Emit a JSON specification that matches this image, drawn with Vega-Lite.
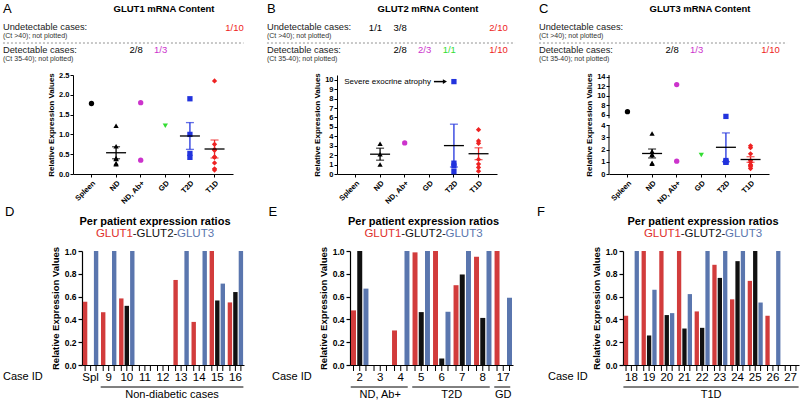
{
 "$schema": "https://vega.github.io/schema/vega-lite/v6.json",
 "padding": {"left": 2, "top": 2, "right": 0, "bottom": 0},
 "background": "white",
 "config": {
  "font": "Liberation Sans",
  "view": {"stroke": null},
  "axis": {"grid": false, "domainColor": "#000", "tickColor": "#000", "labelColor": "#000", "titleColor": "#000", "labelFont": "Liberation Sans", "titleFont": "Liberation Sans"},
  "axisY": {"labelFontWeight": "bold", "titleFontWeight": "bold"},
  "text": {"font": "Liberation Sans", "color": "#000"}
 },
 "datasets": {
  "g1": [
   {"g": "Spleen", "v": 1.78},
   {"g": "ND", "v": 1.22}, {"g": "ND", "v": 0.70}, {"g": "ND", "v": 0.40}, {"g": "ND", "v": 0.38}, {"g": "ND", "v": 0.27}, {"g": "ND", "v": 0.25},
   {"g": "ND, Ab+", "v": 1.80}, {"g": "ND, Ab+", "v": 0.35},
   {"g": "GD", "v": 1.22},
   {"g": "T2D", "v": 1.90}, {"g": "T2D", "v": 1.00}, {"g": "T2D", "v": 0.52}, {"g": "T2D", "v": 0.42},
   {"g": "T1D", "v": 2.35}, {"g": "T1D", "v": 0.75}, {"g": "T1D", "v": 0.62}, {"g": "T1D", "v": 0.60}, {"g": "T1D", "v": 0.43}, {"g": "T1D", "v": 0.42}, {"g": "T1D", "v": 0.28}, {"g": "T1D", "v": 0.13}, {"g": "T1D", "v": 0.10}
  ],
  "g2": [
   {"g": "ND", "v": 3.2}, {"g": "ND", "v": 2.1}, {"g": "ND", "v": 1.0},
   {"g": "ND, Ab+", "v": 3.3},
   {"g": "T2D", "v": 9.8}, {"g": "T2D", "v": 1.15}, {"g": "T2D", "v": 0.85}, {"g": "T2D", "v": 0.25},
   {"g": "T1D", "v": 4.7}, {"g": "T1D", "v": 3.5}, {"g": "T1D", "v": 3.25}, {"g": "T1D", "v": 1.55}, {"g": "T1D", "v": 1.05}, {"g": "T1D", "v": 0.7}, {"g": "T1D", "v": 0.3}
  ],
  "g3": [
   {"g": "Spleen", "v": 6.7},
   {"g": "ND", "v": 3.3}, {"g": "ND", "v": 1.85}, {"g": "ND", "v": 1.6}, {"g": "ND", "v": 1.55}, {"g": "ND", "v": 0.9}, {"g": "ND", "v": 0.85},
   {"g": "ND, Ab+", "v": 12.4}, {"g": "ND, Ab+", "v": 1.05},
   {"g": "GD", "v": 1.55},
   {"g": "T2D", "v": 5.7}, {"g": "T2D", "v": 1.1}, {"g": "T2D", "v": 0.97}, {"g": "T2D", "v": 0.95},
   {"g": "T1D", "v": 2.3}, {"g": "T1D", "v": 2.15}, {"g": "T1D", "v": 1.65}, {"g": "T1D", "v": 1.1}, {"g": "T1D", "v": 0.95}, {"g": "T1D", "v": 0.75}, {"g": "T1D", "v": 0.7}, {"g": "T1D", "v": 0.6}, {"g": "T1D", "v": 0.45}
  ]
 },
 "spacing": 0,
 "resolve": {"scale": {"x": "independent", "y": "independent", "color": "independent", "shape": "independent", "xOffset": "independent"}},
 "vconcat": [
  {
   "spacing": 22,
   "resolve": {"scale": {"x": "independent", "y": "independent", "color": "independent", "shape": "independent"}},
   "hconcat": [
    {
     "width": 160, "height": 99,
     "layer": [
      {"data": {"name": "g1"}, "mark": {"type": "point", "filled": true, "size": 28, "opacity": 1},
       "encoding": {
        "x": {"field": "g", "type": "nominal", "scale": {"type": "band", "domain": ["Spleen", "ND", "ND, Ab+", "GD", "T2D", "T1D"], "range": [-9, 151], "paddingInner": 0, "paddingOuter": 0.25}, "axis": {"title": null, "labelAngle": -45, "labelFontSize": 7.5, "labelFontWeight": "bold", "tickSize": 3, "labelPadding": 2}},
        "y": {"field": "v", "type": "quantitative", "scale": {"domain": [0, 2.5], "nice": false, "zero": false}, "axis": {"title": "Relative Expression Values", "values": [0, 0.5, 1, 1.5, 2, 2.5], "format": ".1f", "labelFontSize": 7.5, "titleFontSize": 8, "tickSize": 3, "titlePadding": 3, "labelPadding": 1, "offset": 9}},
        "color": {"field": "g", "type": "nominal", "scale": {"domain": ["Spleen", "ND", "ND, Ab+", "GD", "T2D", "T1D"], "range": ["#000000", "#000000", "#cc33cc", "#33dd33", "#2233dd", "#ee2222"]}, "legend": null},
        "shape": {"field": "g", "type": "nominal", "scale": {"domain": ["Spleen", "ND", "ND, Ab+", "GD", "T2D", "T1D"], "range": ["circle", "triangle-up", "circle", "triangle-down", "square", "diamond"]}, "legend": null}
       }},
      {"data": {"name": "g1"}, "transform": [{"filter": {"field": "g", "oneOf": ["ND", "T2D", "T1D"]}}],
       "mark": {"type": "errorbar", "extent": "stderr", "ticks": {"size": 8}, "thickness": 1.3},
       "encoding": {"x": {"field": "g", "type": "nominal"}, "y": {"field": "v", "type": "quantitative", "axis": {"title": "Relative Expression Values", "values": [0, 0.5, 1, 1.5, 2, 2.5], "format": ".1f", "labelFontSize": 7.5, "titleFontSize": 8, "tickSize": 3, "titlePadding": 3, "labelPadding": 1, "offset": 9}}, "color": {"field": "g", "type": "nominal", "legend": null}}},
      {"data": {"name": "g1"}, "transform": [{"filter": {"field": "g", "oneOf": ["ND", "T2D", "T1D"]}}],
       "mark": {"type": "tick", "color": "#000", "size": 20, "thickness": 1.3},
       "encoding": {"x": {"field": "g", "type": "nominal"}, "y": {"aggregate": "mean", "field": "v", "type": "quantitative", "axis": {"title": "Relative Expression Values", "values": [0, 0.5, 1, 1.5, 2, 2.5], "format": ".1f", "labelFontSize": 7.5, "titleFontSize": 8, "tickSize": 3, "titlePadding": 3, "labelPadding": 1, "offset": 9}}}},
      {"data": {"values": [{}]}, "mark": {"type": "text", "align": "left", "baseline": "middle", "dx": -88.5, "dy": -116, "fontSize": 13}, "encoding": {"x": {"datum": "Spleen"}, "text": {"value": "A"}}},
      {"data": {"values": [{}]}, "mark": {"type": "text", "align": "center", "baseline": "middle", "dx": -1.3, "dy": -115.5, "fontSize": 9.5, "fontWeight": "bold"}, "encoding": {"x": {"datum": "GD"}, "text": {"value": "GLUT1 mRNA Content"}}},
      {"data": {"values": [{}]}, "mark": {"type": "text", "align": "left", "baseline": "middle", "dx": -88.5, "dy": -97.5, "fontSize": 9.3, "color": "#222"}, "encoding": {"x": {"datum": "Spleen"}, "text": {"value": "Undetectable cases:"}}},
      {"data": {"values": [{}]}, "mark": {"type": "text", "align": "left", "baseline": "middle", "dx": -88.5, "dy": -88.5, "fontSize": 7, "color": "#333"}, "encoding": {"x": {"datum": "Spleen"}, "text": {"value": "(Ct >40); not plotted)"}}},
      {"data": {"values": [{}]}, "mark": {"type": "text", "align": "left", "baseline": "middle", "dx": -88.5, "dy": -74.5, "fontSize": 9.3, "color": "#222"}, "encoding": {"x": {"datum": "Spleen"}, "text": {"value": "Detectable cases:"}}},
      {"data": {"values": [{}]}, "mark": {"type": "text", "align": "left", "baseline": "middle", "dx": -88.5, "dy": -65.5, "fontSize": 7, "color": "#333"}, "encoding": {"x": {"datum": "Spleen"}, "text": {"value": "(Ct 35-40); not plotted)"}}},
      {"data": {"values": [{}]}, "mark": {"type": "rule", "strokeDash": [2, 2], "color": "#777", "strokeWidth": 0.8, "xOffset": -88.5, "x2Offset": 29, "yOffset": -81.5}, "encoding": {"x": {"datum": "Spleen"}, "x2": {"datum": "T1D"}}},
      {"data": {"values": [{"g": "T1D", "t": "1/10"}]}, "mark": {"type": "text", "baseline": "middle", "dx": 20, "dy": -97, "fontSize": 9.5}, "encoding": {"x": {"field": "g", "type": "nominal"}, "text": {"field": "t"}, "color": {"field": "g", "type": "nominal", "legend": null}}},
      {"data": {"values": [{"g": "ND", "t": "2/8"}, {"g": "ND, Ab+", "t": "1/3"}]}, "mark": {"type": "text", "baseline": "middle", "dx": 20, "dy": -74.5, "fontSize": 9.5}, "encoding": {"x": {"field": "g", "type": "nominal"}, "text": {"field": "t"}, "color": {"field": "g", "type": "nominal", "legend": null}}}
     ]
    },
    {
     "width": 160, "height": 99,
     "layer": [
      {"data": {"name": "g2"}, "mark": {"type": "point", "filled": true, "size": 28, "opacity": 1},
       "encoding": {
        "x": {"field": "g", "type": "nominal", "scale": {"type": "band", "domain": ["Spleen", "ND", "ND, Ab+", "GD", "T2D", "T1D"], "paddingInner": 0, "paddingOuter": 0.25}, "axis": {"title": null, "labelAngle": -45, "labelFontSize": 7.5, "labelFontWeight": "bold", "tickSize": 3, "labelPadding": 2}},
        "y": {"field": "v", "type": "quantitative", "scale": {"domain": [0, 10.5], "nice": false, "zero": false}, "axis": {"title": "Relative Expression Values", "values": [0, 1, 2, 3, 4, 5, 6, 7, 8, 9, 10], "format": "d", "labelFontSize": 7.5, "titleFontSize": 8, "tickSize": 3, "titlePadding": 3, "labelPadding": 1}},
        "color": {"field": "g", "type": "nominal", "scale": {"domain": ["Spleen", "ND", "ND, Ab+", "GD", "T2D", "T1D"], "range": ["#000000", "#000000", "#cc33cc", "#33dd33", "#2233dd", "#ee2222"]}, "legend": null},
        "shape": {"field": "g", "type": "nominal", "scale": {"domain": ["Spleen", "ND", "ND, Ab+", "GD", "T2D", "T1D"], "range": ["circle", "triangle-up", "circle", "triangle-down", "square", "diamond"]}, "legend": null}
       }},
      {"data": {"name": "g2"}, "transform": [{"filter": {"field": "g", "oneOf": ["ND", "T2D", "T1D"]}}],
       "mark": {"type": "errorbar", "extent": "stderr", "ticks": {"size": 8}, "thickness": 1.3},
       "encoding": {"x": {"field": "g", "type": "nominal"}, "y": {"field": "v", "type": "quantitative", "axis": {"title": "Relative Expression Values", "values": [0, 1, 2, 3, 4, 5, 6, 7, 8, 9, 10], "format": "d", "labelFontSize": 7.5, "titleFontSize": 8, "tickSize": 3, "titlePadding": 3, "labelPadding": 1}}, "color": {"field": "g", "type": "nominal", "legend": null}}},
      {"data": {"name": "g2"}, "transform": [{"filter": {"field": "g", "oneOf": ["ND", "T2D", "T1D"]}}],
       "mark": {"type": "tick", "color": "#000", "size": 20, "thickness": 1.3},
       "encoding": {"x": {"field": "g", "type": "nominal"}, "y": {"aggregate": "mean", "field": "v", "type": "quantitative", "axis": {"title": "Relative Expression Values", "values": [0, 1, 2, 3, 4, 5, 6, 7, 8, 9, 10], "format": "d", "labelFontSize": 7.5, "titleFontSize": 8, "tickSize": 3, "titlePadding": 3, "labelPadding": 1}}}},
      {"data": {"values": [{"g": "T2D", "v": 9.8, "t": "Severe exocrine atrophy"}]}, "mark": {"type": "text", "align": "right", "baseline": "middle", "dx": -23, "fontSize": 8},
       "encoding": {"x": {"field": "g", "type": "nominal"}, "y": {"field": "v", "type": "quantitative", "axis": {"title": "Relative Expression Values", "values": [0, 1, 2, 3, 4, 5, 6, 7, 8, 9, 10], "format": "d", "labelFontSize": 7.5, "titleFontSize": 8, "tickSize": 3, "titlePadding": 3, "labelPadding": 1}}, "text": {"field": "t"}}},
      {"data": {"values": [{"g": "T2D", "v": 9.8}]}, "mark": {"type": "rule", "color": "#000", "strokeWidth": 1.5, "xOffset": -20, "x2Offset": -10},
       "encoding": {"x": {"field": "g", "type": "nominal"}, "x2": {"field": "g"}, "y": {"field": "v", "type": "quantitative", "axis": {"title": "Relative Expression Values", "values": [0, 1, 2, 3, 4, 5, 6, 7, 8, 9, 10], "format": "d", "labelFontSize": 7.5, "titleFontSize": 8, "tickSize": 3, "titlePadding": 3, "labelPadding": 1}}}},
      {"data": {"values": [{"g": "T2D", "v": 9.8}]}, "mark": {"type": "point", "shape": "triangle-right", "filled": true, "color": "#000", "opacity": 1, "size": 22, "xOffset": -9},
       "encoding": {"x": {"field": "g", "type": "nominal"}, "y": {"field": "v", "type": "quantitative", "axis": {"title": "Relative Expression Values", "values": [0, 1, 2, 3, 4, 5, 6, 7, 8, 9, 10], "format": "d", "labelFontSize": 7.5, "titleFontSize": 8, "tickSize": 3, "titlePadding": 3, "labelPadding": 1}}}},
      {"data": {"values": [{}]}, "mark": {"type": "text", "align": "left", "baseline": "middle", "dx": -88.5, "dy": -116, "fontSize": 13}, "encoding": {"x": {"datum": "Spleen"}, "text": {"value": "B"}}},
      {"data": {"values": [{}]}, "mark": {"type": "text", "align": "center", "baseline": "middle", "dx": -1.3, "dy": -115.5, "fontSize": 9.5, "fontWeight": "bold"}, "encoding": {"x": {"datum": "GD"}, "text": {"value": "GLUT2 mRNA Content"}}},
      {"data": {"values": [{}]}, "mark": {"type": "text", "align": "left", "baseline": "middle", "dx": -88.5, "dy": -97.5, "fontSize": 9.3, "color": "#222"}, "encoding": {"x": {"datum": "Spleen"}, "text": {"value": "Undetectable cases:"}}},
      {"data": {"values": [{}]}, "mark": {"type": "text", "align": "left", "baseline": "middle", "dx": -88.5, "dy": -88.5, "fontSize": 7, "color": "#333"}, "encoding": {"x": {"datum": "Spleen"}, "text": {"value": "(Ct >40); not plotted)"}}},
      {"data": {"values": [{}]}, "mark": {"type": "text", "align": "left", "baseline": "middle", "dx": -88.5, "dy": -74.5, "fontSize": 9.3, "color": "#222"}, "encoding": {"x": {"datum": "Spleen"}, "text": {"value": "Detectable cases:"}}},
      {"data": {"values": [{}]}, "mark": {"type": "text", "align": "left", "baseline": "middle", "dx": -88.5, "dy": -65.5, "fontSize": 7, "color": "#333"}, "encoding": {"x": {"datum": "Spleen"}, "text": {"value": "(Ct 35-40); not plotted)"}}},
      {"data": {"values": [{}]}, "mark": {"type": "rule", "strokeDash": [2, 2], "color": "#777", "strokeWidth": 0.8, "xOffset": -88.5, "x2Offset": 36.5, "yOffset": -81.5}, "encoding": {"x": {"datum": "Spleen"}, "x2": {"datum": "T1D"}}},
      {"data": {"values": [{"g": "Spleen", "t": "1/1"}, {"g": "ND", "t": "3/8"}, {"g": "T1D", "t": "2/10"}]}, "mark": {"type": "text", "baseline": "middle", "dx": 20, "dy": -97, "fontSize": 9.5}, "encoding": {"x": {"field": "g", "type": "nominal"}, "text": {"field": "t"}, "color": {"field": "g", "type": "nominal", "legend": null}}},
      {"data": {"values": [{"g": "ND", "t": "2/8"}, {"g": "ND, Ab+", "t": "2/3"}, {"g": "GD", "t": "1/1"}, {"g": "T1D", "t": "1/10"}]}, "mark": {"type": "text", "baseline": "middle", "dx": 20, "dy": -74.5, "fontSize": 9.5}, "encoding": {"x": {"field": "g", "type": "nominal"}, "text": {"field": "t"}, "color": {"field": "g", "type": "nominal", "legend": null}}}
     ]
    },
    {
     "width": 160, "height": 99,
     "layer": [
      {"data": {"name": "g3"}, "mark": {"type": "point", "filled": true, "size": 28, "opacity": 1},
       "encoding": {
        "x": {"field": "g", "type": "nominal", "scale": {"type": "band", "domain": ["Spleen", "ND", "ND, Ab+", "GD", "T2D", "T1D"], "paddingInner": 0, "paddingOuter": 0.25}, "axis": {"title": null, "labelAngle": -45, "labelFontSize": 7.5, "labelFontWeight": "bold", "tickSize": 3, "labelPadding": 2}},
        "y": {"field": "v", "type": "quantitative", "scale": {"domain": [0, 4, 5, 14.4], "range": [99, 50, 44.75, 0], "nice": false, "zero": false}, "axis": {"title": "Relative Expression Values", "values": [0, 1, 2, 3, 4, 6, 8, 10, 12, 14], "format": "d", "domain": false, "labelFontSize": 7.5, "titleFontSize": 8, "tickSize": 3, "titlePadding": 3, "labelPadding": 1}},
        "color": {"field": "g", "type": "nominal", "scale": {"domain": ["Spleen", "ND", "ND, Ab+", "GD", "T2D", "T1D"], "range": ["#000000", "#000000", "#cc33cc", "#33dd33", "#2233dd", "#ee2222"]}, "legend": null},
        "shape": {"field": "g", "type": "nominal", "scale": {"domain": ["Spleen", "ND", "ND, Ab+", "GD", "T2D", "T1D"], "range": ["circle", "triangle-up", "circle", "triangle-down", "square", "diamond"]}, "legend": null}
       }},
      {"data": {"values": [{"a": 0, "b": 4}, {"a": 5.3, "b": 14.4}]}, "mark": {"type": "rule", "color": "#000", "xOffset": -80},
       "encoding": {"y": {"field": "a", "type": "quantitative", "axis": {"title": "Relative Expression Values", "values": [0, 1, 2, 3, 4, 6, 8, 10, 12, 14], "format": "d", "domain": false, "labelFontSize": 7.5, "titleFontSize": 8, "tickSize": 3, "titlePadding": 3, "labelPadding": 1}}, "y2": {"field": "b"}}},
      {"data": {"name": "g3"}, "transform": [{"filter": {"field": "g", "oneOf": ["ND", "T2D", "T1D"]}}],
       "mark": {"type": "errorbar", "extent": "stderr", "ticks": {"size": 8}, "thickness": 1.3},
       "encoding": {"x": {"field": "g", "type": "nominal"}, "y": {"field": "v", "type": "quantitative", "axis": {"title": "Relative Expression Values", "values": [0, 1, 2, 3, 4, 6, 8, 10, 12, 14], "format": "d", "domain": false, "labelFontSize": 7.5, "titleFontSize": 8, "tickSize": 3, "titlePadding": 3, "labelPadding": 1}}, "color": {"field": "g", "type": "nominal", "legend": null}}},
      {"data": {"name": "g3"}, "transform": [{"filter": {"field": "g", "oneOf": ["ND", "T2D", "T1D"]}}],
       "mark": {"type": "tick", "color": "#000", "size": 20, "thickness": 1.3},
       "encoding": {"x": {"field": "g", "type": "nominal"}, "y": {"aggregate": "mean", "field": "v", "type": "quantitative", "axis": {"title": "Relative Expression Values", "values": [0, 1, 2, 3, 4, 6, 8, 10, 12, 14], "format": "d", "domain": false, "labelFontSize": 7.5, "titleFontSize": 8, "tickSize": 3, "titlePadding": 3, "labelPadding": 1}}}},
      {"data": {"values": [{}]}, "mark": {"type": "text", "align": "left", "baseline": "middle", "dx": -88.5, "dy": -116, "fontSize": 13}, "encoding": {"x": {"datum": "Spleen"}, "text": {"value": "C"}}},
      {"data": {"values": [{}]}, "mark": {"type": "text", "align": "center", "baseline": "middle", "dx": -1.3, "dy": -115.5, "fontSize": 9.5, "fontWeight": "bold"}, "encoding": {"x": {"datum": "GD"}, "text": {"value": "GLUT3 mRNA Content"}}},
      {"data": {"values": [{}]}, "mark": {"type": "text", "align": "left", "baseline": "middle", "dx": -88.5, "dy": -97.5, "fontSize": 9.3, "color": "#222"}, "encoding": {"x": {"datum": "Spleen"}, "text": {"value": "Undetectable cases:"}}},
      {"data": {"values": [{}]}, "mark": {"type": "text", "align": "left", "baseline": "middle", "dx": -88.5, "dy": -88.5, "fontSize": 7, "color": "#333"}, "encoding": {"x": {"datum": "Spleen"}, "text": {"value": "(Ct >40); not plotted)"}}},
      {"data": {"values": [{}]}, "mark": {"type": "text", "align": "left", "baseline": "middle", "dx": -88.5, "dy": -74.5, "fontSize": 9.3, "color": "#222"}, "encoding": {"x": {"datum": "Spleen"}, "text": {"value": "Detectable cases:"}}},
      {"data": {"values": [{}]}, "mark": {"type": "text", "align": "left", "baseline": "middle", "dx": -88.5, "dy": -65.5, "fontSize": 7, "color": "#333"}, "encoding": {"x": {"datum": "Spleen"}, "text": {"value": "(Ct 35-40); not plotted)"}}},
      {"data": {"values": [{}]}, "mark": {"type": "rule", "strokeDash": [2, 2], "color": "#777", "strokeWidth": 0.8, "xOffset": -88.5, "x2Offset": 36.5, "yOffset": -81.5}, "encoding": {"x": {"datum": "Spleen"}, "x2": {"datum": "T1D"}}},
      {"data": {"values": [{"g": "ND", "t": "2/8"}, {"g": "ND, Ab+", "t": "1/3"}, {"g": "T1D", "t": "1/10"}]}, "mark": {"type": "text", "baseline": "middle", "dx": 20, "dy": -74.5, "fontSize": 9.5}, "encoding": {"x": {"field": "g", "type": "nominal"}, "text": {"field": "t"}, "color": {"field": "g", "type": "nominal", "legend": null}}}
     ]
    }
   ]
  },
  {
   "spacing": 24,
   "resolve": {"scale": {"x": "independent", "y": "independent", "color": "independent", "xOffset": "independent"}},
   "hconcat": [
    {
     "width": 162, "height": 114,
     "data": {"values": [
      {"c": "Spl", "k": "GLUT1", "v": 0.555}, {"c": "Spl", "k": "GLUT2", "v": null}, {"c": "Spl", "k": "GLUT3", "v": 1},
      {"c": "9", "k": "GLUT1", "v": 0.463}, {"c": "9", "k": "GLUT2", "v": null}, {"c": "9", "k": "GLUT3", "v": 1},
      {"c": "10", "k": "GLUT1", "v": 0.584}, {"c": "10", "k": "GLUT2", "v": 0.519}, {"c": "10", "k": "GLUT3", "v": 1},
      {"c": "11", "k": "GLUT1", "v": null}, {"c": "11", "k": "GLUT2", "v": null}, {"c": "11", "k": "GLUT3", "v": null},
      {"c": "12", "k": "GLUT1", "v": null}, {"c": "12", "k": "GLUT2", "v": null}, {"c": "12", "k": "GLUT3", "v": null},
      {"c": "13", "k": "GLUT1", "v": 0.746}, {"c": "13", "k": "GLUT2", "v": null}, {"c": "13", "k": "GLUT3", "v": 1},
      {"c": "14", "k": "GLUT1", "v": 0.378}, {"c": "14", "k": "GLUT2", "v": null}, {"c": "14", "k": "GLUT3", "v": 1},
      {"c": "15", "k": "GLUT1", "v": 1}, {"c": "15", "k": "GLUT2", "v": 0.566}, {"c": "15", "k": "GLUT3", "v": 0.714},
      {"c": "16", "k": "GLUT1", "v": 0.549}, {"c": "16", "k": "GLUT2", "v": 0.64}, {"c": "16", "k": "GLUT3", "v": 1}
     ]},
     "layer": [
      {"mark": {"type": "bar"},
       "encoding": {
        "x": {"field": "c", "type": "nominal", "scale": {"domain": ["Spl", "9", "10", "11", "12", "13", "14", "15", "16"], "paddingInner": 0.15, "paddingOuter": 0.05}, "axis": {"title": null, "ticks": false, "labelAngle": 0, "labelFontSize": 11.5, "labelPadding": 6, "domainWidth": 1.2}},
        "xOffset": {"field": "k", "type": "nominal", "scale": {"domain": ["GLUT1", "GLUT2", "GLUT3"], "paddingInner": 0.2}},
        "y": {"field": "v", "type": "quantitative", "scale": {"domain": [0, 1], "nice": false}, "axis": {"title": "Relative Expression Values", "values": [0, 0.2, 0.4, 0.6, 0.8, 1], "format": ".1f", "labelFontSize": 8.5, "titleFontSize": 9.5, "tickSize": 4, "titlePadding": 4, "labelPadding": 2, "domainWidth": 1.2, "tickWidth": 1.2}},
        "color": {"field": "k", "type": "nominal", "scale": {"domain": ["GLUT1", "GLUT2", "GLUT3"], "range": ["#d23c3c", "#111111", "#5a76ae"]}, "legend": null}
       }},
      {"mark": {"type": "rule", "color": "#000", "y2Offset": 6},
       "encoding": {"x": {"field": "c", "type": "nominal"}, "xOffset": {"field": "k", "type": "nominal"}, "y": {"datum": 0, "type": "quantitative", "axis": {"title": "Relative Expression Values", "values": [0, 0.2, 0.4, 0.6, 0.8, 1], "format": ".1f", "labelFontSize": 8.5, "titleFontSize": 9.5, "tickSize": 4, "titlePadding": 4, "labelPadding": 2, "domainWidth": 1.2, "tickWidth": 1.2}}, "y2": {"datum": 0}}},
      {"data": {"values": [{"s": "9", "e": "16"}]}, "mark": {"type": "rule", "color": "#000", "xOffset": -8, "x2Offset": 8, "yOffset": 79},
       "encoding": {"x": {"field": "s", "type": "nominal"}, "x2": {"field": "e"}}},
      {"data": {"values": [{"m": "12", "t": "Non-diabetic cases"}]}, "mark": {"type": "text", "baseline": "middle", "dx": 9, "dy": 87, "fontSize": 11},
       "encoding": {"x": {"field": "m", "type": "nominal"}, "text": {"field": "t"}}},
      {"data": {"values": [{}]}, "mark": {"type": "text", "align": "left", "baseline": "middle", "dx": -160, "dy": 69, "fontSize": 11}, "encoding": {"text": {"value": "Case ID"}}},
      {"data": {"values": [{}]}, "mark": {"type": "text", "align": "left", "baseline": "middle", "dx": -158, "dy": -96, "fontSize": 13}, "encoding": {"text": {"value": "D"}}},
      {"data": {"values": [{}]}, "mark": {"type": "text", "align": "center", "baseline": "middle", "dx": -8, "dy": -86, "fontSize": 11, "fontWeight": "bold"}, "encoding": {"text": {"value": "Per patient expression ratios"}}},
      {"data": {"values": [{}]}, "mark": {"type": "text", "align": "right", "baseline": "middle", "dx": -30, "dy": -74, "fontSize": 11.5, "color": "#e0302c"}, "encoding": {"text": {"value": "GLUT1"}}},
      {"data": {"values": [{}]}, "mark": {"type": "text", "align": "center", "baseline": "middle", "dx": -8, "dy": -74, "fontSize": 11.5, "color": "#111"}, "encoding": {"text": {"value": "-GLUT2-"}}},
      {"data": {"values": [{}]}, "mark": {"type": "text", "align": "left", "baseline": "middle", "dx": 14, "dy": -74, "fontSize": 11.5, "color": "#5a76ae"}, "encoding": {"text": {"value": "GLUT3"}}}
     ]
    },
    {
     "width": 163, "height": 114,
     "data": {"values": [
      {"c": "2", "k": "GLUT1", "v": 0.479}, {"c": "2", "k": "GLUT2", "v": 1}, {"c": "2", "k": "GLUT3", "v": 0.67},
      {"c": "3", "k": "GLUT1", "v": null}, {"c": "3", "k": "GLUT2", "v": null}, {"c": "3", "k": "GLUT3", "v": null},
      {"c": "4", "k": "GLUT1", "v": 0.303}, {"c": "4", "k": "GLUT2", "v": null}, {"c": "4", "k": "GLUT3", "v": 1},
      {"c": "5", "k": "GLUT1", "v": 0.988}, {"c": "5", "k": "GLUT2", "v": 0.464}, {"c": "5", "k": "GLUT3", "v": 1},
      {"c": "6", "k": "GLUT1", "v": 1}, {"c": "6", "k": "GLUT2", "v": 0.057}, {"c": "6", "k": "GLUT3", "v": 0.467},
      {"c": "7", "k": "GLUT1", "v": 0.70}, {"c": "7", "k": "GLUT2", "v": 0.794}, {"c": "7", "k": "GLUT3", "v": 1},
      {"c": "8", "k": "GLUT1", "v": 0.95}, {"c": "8", "k": "GLUT2", "v": 0.413}, {"c": "8", "k": "GLUT3", "v": 1},
      {"c": "17", "k": "GLUT1", "v": 1}, {"c": "17", "k": "GLUT2", "v": null}, {"c": "17", "k": "GLUT3", "v": 0.59}
     ]},
     "layer": [
      {"mark": {"type": "bar"},
       "encoding": {
        "x": {"field": "c", "type": "nominal", "scale": {"domain": ["2", "3", "4", "5", "6", "7", "8", "17"], "paddingInner": 0.15, "paddingOuter": 0.05}, "axis": {"title": null, "ticks": false, "labelAngle": 0, "labelFontSize": 11.5, "labelPadding": 6, "domainWidth": 1.2}},
        "xOffset": {"field": "k", "type": "nominal", "scale": {"domain": ["GLUT1", "GLUT2", "GLUT3"], "paddingInner": 0.2}},
        "y": {"field": "v", "type": "quantitative", "scale": {"domain": [0, 1], "nice": false}, "axis": {"title": "Relative Expression Values", "values": [0, 0.2, 0.4, 0.6, 0.8, 1], "format": ".1f", "labelFontSize": 8.5, "titleFontSize": 9.5, "tickSize": 4, "titlePadding": 4, "labelPadding": 2, "domainWidth": 1.2, "tickWidth": 1.2}},
        "color": {"field": "k", "type": "nominal", "scale": {"domain": ["GLUT1", "GLUT2", "GLUT3"], "range": ["#d23c3c", "#111111", "#5a76ae"]}, "legend": null}
       }},
      {"mark": {"type": "rule", "color": "#000", "y2Offset": 6},
       "encoding": {"x": {"field": "c", "type": "nominal"}, "xOffset": {"field": "k", "type": "nominal"}, "y": {"datum": 0, "type": "quantitative", "axis": {"title": "Relative Expression Values", "values": [0, 0.2, 0.4, 0.6, 0.8, 1], "format": ".1f", "labelFontSize": 8.5, "titleFontSize": 9.5, "tickSize": 4, "titlePadding": 4, "labelPadding": 2, "domainWidth": 1.2, "tickWidth": 1.2}}, "y2": {"datum": 0}}},
      {"data": {"values": [{"s": "2", "e": "4"}, {"s": "5", "e": "8"}, {"s": "17", "e": "17"}]}, "mark": {"type": "rule", "color": "#000", "xOffset": -9, "x2Offset": 7, "yOffset": 79},
       "encoding": {"x": {"field": "s", "type": "nominal"}, "x2": {"field": "e"}}},
      {"data": {"values": [{"m": "3", "t": "ND, Ab+"}, {"m": "17", "t": "GD"}]}, "mark": {"type": "text", "baseline": "middle", "dy": 87, "fontSize": 11},
       "encoding": {"x": {"field": "m", "type": "nominal"}, "text": {"field": "t"}}},
      {"data": {"values": [{"m": "6", "t": "T2D"}]}, "mark": {"type": "text", "baseline": "middle", "dx": 10, "dy": 87, "fontSize": 11},
       "encoding": {"x": {"field": "m", "type": "nominal"}, "text": {"field": "t"}}},
      {"data": {"values": [{}]}, "mark": {"type": "text", "align": "left", "baseline": "middle", "dx": -159.5, "dy": 69, "fontSize": 11}, "encoding": {"text": {"value": "Case ID"}}},
      {"data": {"values": [{}]}, "mark": {"type": "text", "align": "left", "baseline": "middle", "dx": -163, "dy": -96, "fontSize": 13}, "encoding": {"text": {"value": "E"}}},
      {"data": {"values": [{}]}, "mark": {"type": "text", "align": "center", "baseline": "middle", "dx": -8, "dy": -86, "fontSize": 11, "fontWeight": "bold"}, "encoding": {"text": {"value": "Per patient expression ratios"}}},
      {"data": {"values": [{}]}, "mark": {"type": "text", "align": "right", "baseline": "middle", "dx": -30, "dy": -74, "fontSize": 11.5, "color": "#e0302c"}, "encoding": {"text": {"value": "GLUT1"}}},
      {"data": {"values": [{}]}, "mark": {"type": "text", "align": "center", "baseline": "middle", "dx": -8, "dy": -74, "fontSize": 11.5, "color": "#111"}, "encoding": {"text": {"value": "-GLUT2-"}}},
      {"data": {"values": [{}]}, "mark": {"type": "text", "align": "left", "baseline": "middle", "dx": 14, "dy": -74, "fontSize": 11.5, "color": "#5a76ae"}, "encoding": {"text": {"value": "GLUT3"}}}
     ]
    },
    {
     "width": 176, "height": 114,
     "data": {"values": [
      {"c": "18", "k": "GLUT1", "v": 0.432}, {"c": "18", "k": "GLUT2", "v": null}, {"c": "18", "k": "GLUT3", "v": 1},
      {"c": "19", "k": "GLUT1", "v": 1}, {"c": "19", "k": "GLUT2", "v": 0.259}, {"c": "19", "k": "GLUT3", "v": 0.66},
      {"c": "20", "k": "GLUT1", "v": 1}, {"c": "20", "k": "GLUT2", "v": 0.438}, {"c": "20", "k": "GLUT3", "v": 0.455},
      {"c": "21", "k": "GLUT1", "v": 1}, {"c": "21", "k": "GLUT2", "v": 0.32}, {"c": "21", "k": "GLUT3", "v": 0.622},
      {"c": "22", "k": "GLUT1", "v": 0.47}, {"c": "22", "k": "GLUT2", "v": 0.326}, {"c": "22", "k": "GLUT3", "v": 1},
      {"c": "23", "k": "GLUT1", "v": 0.879}, {"c": "23", "k": "GLUT2", "v": 0.764}, {"c": "23", "k": "GLUT3", "v": 1},
      {"c": "24", "k": "GLUT1", "v": 0.576}, {"c": "24", "k": "GLUT2", "v": 0.911}, {"c": "24", "k": "GLUT3", "v": 1},
      {"c": "25", "k": "GLUT1", "v": 0.738}, {"c": "25", "k": "GLUT2", "v": 1}, {"c": "25", "k": "GLUT3", "v": 0.548},
      {"c": "26", "k": "GLUT1", "v": 0.432}, {"c": "26", "k": "GLUT2", "v": null}, {"c": "26", "k": "GLUT3", "v": 1},
      {"c": "27", "k": "GLUT1", "v": null}, {"c": "27", "k": "GLUT2", "v": null}, {"c": "27", "k": "GLUT3", "v": null}
     ]},
     "layer": [
      {"mark": {"type": "bar"},
       "encoding": {
        "x": {"field": "c", "type": "nominal", "scale": {"domain": ["18", "19", "20", "21", "22", "23", "24", "25", "26", "27"], "paddingInner": 0.15, "paddingOuter": 0.05}, "axis": {"title": null, "ticks": false, "labelAngle": 0, "labelFontSize": 11.5, "labelPadding": 6, "domainWidth": 1.2}},
        "xOffset": {"field": "k", "type": "nominal", "scale": {"domain": ["GLUT1", "GLUT2", "GLUT3"], "paddingInner": 0.2}},
        "y": {"field": "v", "type": "quantitative", "scale": {"domain": [0, 1], "nice": false}, "axis": {"title": "Relative Expression Values", "values": [0, 0.2, 0.4, 0.6, 0.8, 1], "format": ".1f", "labelFontSize": 8.5, "titleFontSize": 9.5, "tickSize": 4, "titlePadding": 4, "labelPadding": 2, "domainWidth": 1.2, "tickWidth": 1.2}},
        "color": {"field": "k", "type": "nominal", "scale": {"domain": ["GLUT1", "GLUT2", "GLUT3"], "range": ["#d23c3c", "#111111", "#5a76ae"]}, "legend": null}
       }},
      {"mark": {"type": "rule", "color": "#000", "y2Offset": 6},
       "encoding": {"x": {"field": "c", "type": "nominal"}, "xOffset": {"field": "k", "type": "nominal"}, "y": {"datum": 0, "type": "quantitative", "axis": {"title": "Relative Expression Values", "values": [0, 0.2, 0.4, 0.6, 0.8, 1], "format": ".1f", "labelFontSize": 8.5, "titleFontSize": 9.5, "tickSize": 4, "titlePadding": 4, "labelPadding": 2, "domainWidth": 1.2, "tickWidth": 1.2}}, "y2": {"datum": 0}}},
      {"data": {"values": [{"s": "18", "e": "27"}]}, "mark": {"type": "rule", "color": "#000", "xOffset": -8, "x2Offset": 8, "yOffset": 79},
       "encoding": {"x": {"field": "s", "type": "nominal"}, "x2": {"field": "e"}}},
      {"data": {"values": [{"m": "22", "t": "T1D"}]}, "mark": {"type": "text", "baseline": "middle", "dx": 9, "dy": 87, "fontSize": 11},
       "encoding": {"x": {"field": "m", "type": "nominal"}, "text": {"field": "t"}}},
      {"data": {"values": [{}]}, "mark": {"type": "text", "align": "left", "baseline": "middle", "dx": -163, "dy": 69, "fontSize": 11}, "encoding": {"text": {"value": "Case ID"}}},
      {"data": {"values": [{}]}, "mark": {"type": "text", "align": "left", "baseline": "middle", "dx": -174, "dy": -96, "fontSize": 13}, "encoding": {"text": {"value": "F"}}},
      {"data": {"values": [{}]}, "mark": {"type": "text", "align": "center", "baseline": "middle", "dx": -8, "dy": -86, "fontSize": 11, "fontWeight": "bold"}, "encoding": {"text": {"value": "Per patient expression ratios"}}},
      {"data": {"values": [{}]}, "mark": {"type": "text", "align": "right", "baseline": "middle", "dx": -30, "dy": -74, "fontSize": 11.5, "color": "#e0302c"}, "encoding": {"text": {"value": "GLUT1"}}},
      {"data": {"values": [{}]}, "mark": {"type": "text", "align": "center", "baseline": "middle", "dx": -8, "dy": -74, "fontSize": 11.5, "color": "#111"}, "encoding": {"text": {"value": "-GLUT2-"}}},
      {"data": {"values": [{}]}, "mark": {"type": "text", "align": "left", "baseline": "middle", "dx": 14, "dy": -74, "fontSize": 11.5, "color": "#5a76ae"}, "encoding": {"text": {"value": "GLUT3"}}}
     ]
    }
   ]
  }
 ]
}
